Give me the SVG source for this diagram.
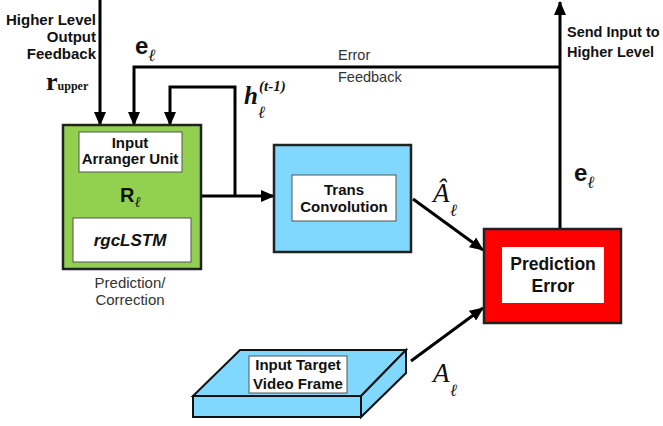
<svg xmlns="http://www.w3.org/2000/svg" width="663" height="426" viewBox="0 0 663 426">
<defs>
<marker id="ah" viewBox="0 0 14 12" refX="13" refY="6" markerWidth="14" markerHeight="12" markerUnits="userSpaceOnUse" orient="auto">
<path d="M0,0 L14,6 L0,12 Z" fill="#000"/>
</marker>
</defs>
<style>
.ln{fill:none;stroke:#000;stroke-width:3}
.box{stroke:#222;stroke-width:2.5}
.inner{fill:#fff;stroke:#555;stroke-width:1}
.lbl{font-family:"Liberation Sans","Arial",sans-serif;font-weight:bold;font-size:15px;fill:#111}
.reg{font-family:"Liberation Sans","Arial",sans-serif;font-size:15px;fill:#333}
.math{font-family:"Liberation Serif","DejaVu Serif",serif;font-style:italic;fill:#111}
.ell{font-family:"DejaVu Serif","Liberation Serif",serif;font-style:italic;font-weight:normal;fill:#111}
</style>
<rect width="663" height="426" fill="#fff"/>
<g id="connectors">
<path class="ln" d="M100,0 V125" marker-end="url(#ah)"/>
<path class="ln" d="M560,228 V2" marker-end="url(#ah)"/>
<path class="ln" d="M560,67 H134 V125" marker-end="url(#ah)"/>
<path class="ln" d="M235,196 V87 H170 V125" marker-end="url(#ah)"/>
<path class="ln" d="M201,196 H274" marker-end="url(#ah)"/>
<path class="ln" d="M413,199 L483,250" marker-end="url(#ah)"/>
<path class="ln" d="M411,361 L483,308" marker-end="url(#ah)"/>
</g>
<g id="labels">
<text class="lbl" text-anchor="end" x="96" y="25">Higher Level</text>
<text class="lbl" text-anchor="end" x="96" y="42">Output</text>
<text class="lbl" text-anchor="end" x="96" y="59">Feedback</text>
<text x="46" y="90" font-family="Liberation Serif,serif" font-weight="bold" font-size="26" fill="#111">r<tspan font-size="12">upper</tspan></text>
<text x="135" y="54" class="lbl" style="font-size:24px">e<tspan class="ell" style="font-size:17px" dy="7">ℓ</tspan></text>
<text x="244" y="104" font-family="Liberation Serif,serif" font-style="italic" font-weight="bold" font-size="25" fill="#111">h</text>
<text x="259" y="91" font-family="Liberation Serif,serif" font-style="italic" font-weight="bold" font-size="15" fill="#111">(t-1)</text>
<text x="258" y="118" class="ell" style="font-size:17px">ℓ</text>
<text class="reg" x="338" y="60" style="font-size:14.5px">Error</text>
<text class="reg" x="338" y="82" style="font-size:14.5px">Feedback</text>
<text class="lbl" x="567" y="37" style="font-size:14.5px">Send Input to</text>
<text class="lbl" x="567" y="57" style="font-size:14.5px">Higher Level</text>
<text x="574" y="181" class="lbl" style="font-size:24px">e<tspan class="ell" style="font-size:17px" dy="7">ℓ</tspan></text>
<text x="433" y="202" class="math" style="font-size:27px">Â</text>
<text x="450" y="216" class="ell" style="font-size:17px">ℓ</text>
<text x="433" y="382" class="math" style="font-size:27px">A</text>
<text x="450" y="396" class="ell" style="font-size:17px">ℓ</text>
</g>
<g id="rnode">
<rect class="box" x="63" y="125" width="138" height="144" fill="#92d050"/>
<rect class="inner" x="79" y="132" width="103" height="40"/>
<text class="lbl" text-anchor="middle" x="130" y="148">Input</text>
<text class="lbl" text-anchor="middle" x="130" y="164">Arranger Unit</text>
<text class="lbl" x="120" y="202" style="font-size:20px">R<tspan class="ell" style="font-size:15px" dy="5">ℓ</tspan></text>
<rect class="inner" x="73" y="218" width="118" height="44"/>
<text class="lbl" text-anchor="middle" x="130" y="246" style="font-size:17px;font-style:italic">rgcLSTM</text>
<text class="reg" text-anchor="middle" x="130" y="288" fill="#222">Prediction/</text>
<text class="reg" text-anchor="middle" x="130" y="305" fill="#222">Correction</text>
</g>
<g id="transconv">
<rect class="box" x="274" y="145" width="137" height="107" fill="#80d8fe"/>
<rect class="inner" x="292" y="175" width="104" height="46"/>
<text class="lbl" text-anchor="middle" x="344" y="195">Trans</text>
<text class="lbl" text-anchor="middle" x="344" y="212">Convolution</text>
</g>
<g id="prederror">
<rect class="box" x="484" y="229" width="137" height="94" fill="#ff0000"/>
<rect fill="#fff" x="502" y="247" width="102" height="56"/>
<text class="lbl" text-anchor="middle" x="553" y="270" style="font-size:17.5px">Prediction</text>
<text class="lbl" text-anchor="middle" x="553" y="292" style="font-size:17.5px">Error</text>
</g>
<g id="inputframe">
<path d="M240,350 H406 L361,396 H193 Z" fill="#80d8fe" stroke="#111" stroke-width="2"/>
<path d="M406,350 V373 L361,417 V396 Z" fill="#80d8fe" stroke="#111" stroke-width="2"/>
<rect x="193" y="396" width="168" height="21" fill="#80d8fe" stroke="#111" stroke-width="2"/>
<rect class="inner" x="249" y="356" width="98" height="37"/>
<text class="lbl" text-anchor="middle" x="298" y="370">Input Target</text>
<text class="lbl" text-anchor="middle" x="298" y="389">Video Frame</text>
</g>
</svg>
